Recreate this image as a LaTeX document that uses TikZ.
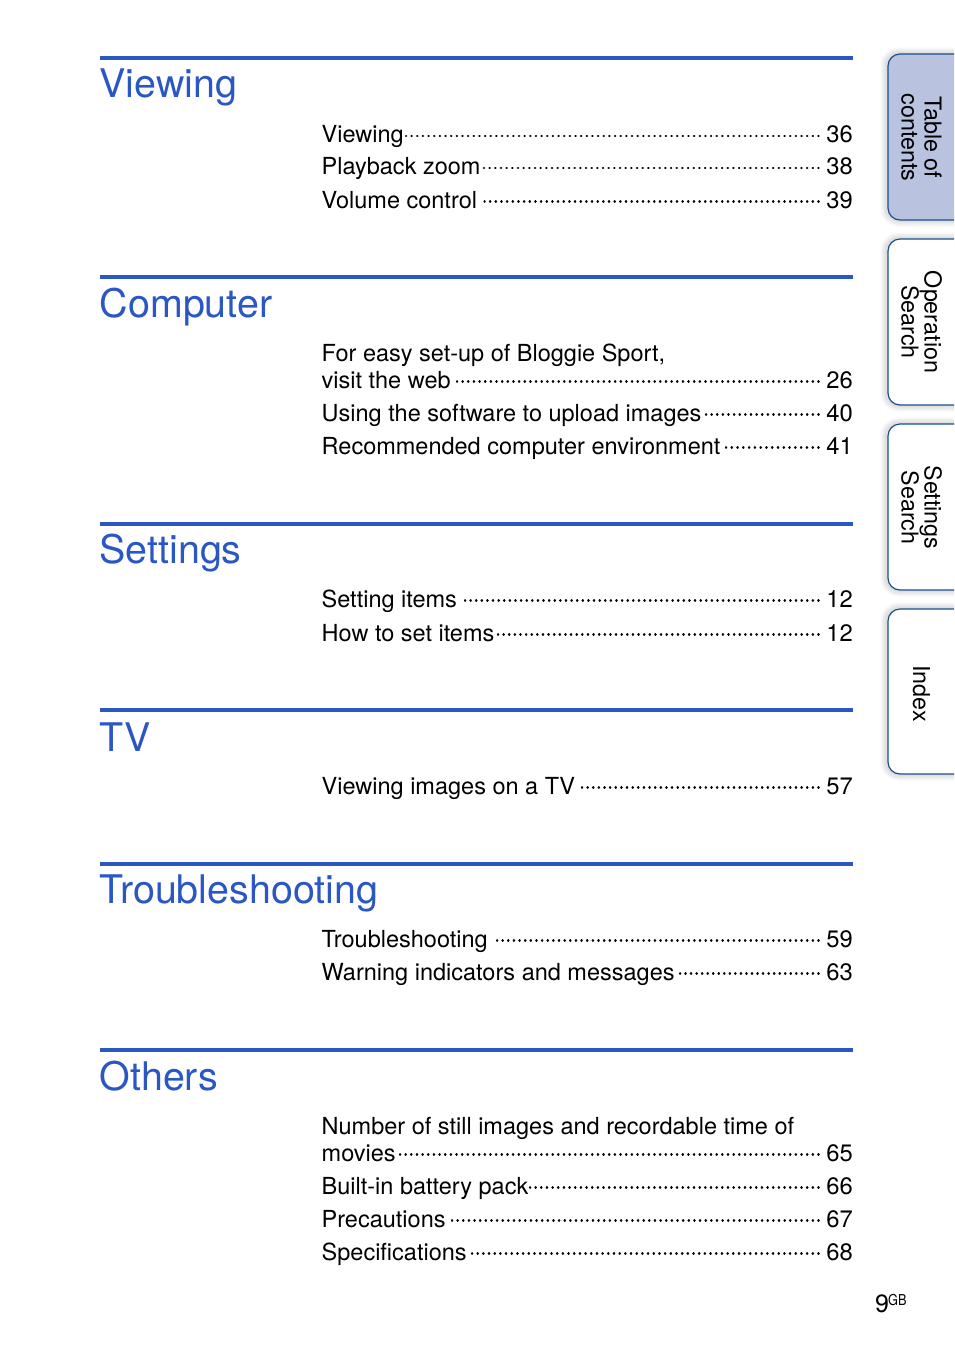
\documentclass[tikz,border=0pt]{standalone}
\usepackage{fontspec}
\setmainfont{TeX Gyre Heros}
\definecolor{headblue}{HTML}{2A57C4}
\definecolor{tabedge}{HTML}{1A4F8F}
\definecolor{tabfill}{HTML}{B9C2DE}
\tikzset{
  x=1pt,y=-1pt,
  heading/.style={anchor=base west,inner sep=0pt,text=headblue,font=\fontsize{39.4}{41}\selectfont},
  rulebar/.style={draw=headblue,line width=4pt},
  entrytext/.style={anchor=base west,inner sep=0pt,font=\fontsize{23.5}{28}\selectfont},
  pagenum/.style={anchor=base east,inner sep=0pt,font=\fontsize{23.8}{28}\selectfont},
  leader/.style={line width=2.4pt,line cap=round},
  tabtext/.style={rotate=-90,inner sep=0pt,align=center,font=\fontsize{23.3}{23}\selectfont},
  tabshape/.style={draw=tabedge,line width=1.2pt,rounded corners=12pt},
  tabshade/.style={draw=black,opacity=.03,rounded corners=12pt},
}
% name, baseline y, text, page, x of the first dot of the leader
\newcommand{\tocentry}[5]{%
  \node[entrytext] (#1l) at (321.5,#2) {#3};
  \node[pagenum] (#1p) at (853,#2) {#4};
  \coordinate (#1e) at (#5-1.0,#2-6.5);
  \pgfmathsetmacro{\dotgap}{(819.5-#5)/round((819.5-#5)/5.65)-0.3}
  \draw[leader,dash pattern=on 0.3pt off \dotgap pt] ([xshift=-7.5pt,yshift=6.5pt]#1p.base west) -- (#1e);
}
\newcommand{\tocsection}[4]{%
  \coordinate (#1a) at (100,#2);
  \coordinate (#1b) at (853,#2);
  \draw[rulebar] (#1a) -- (#1b);
  \node[heading] (#1h) at (99.5,#3) {#4};
}
\newcommand{\sidetab}[5]{%
  \foreach \w in {13,10,7,4}
    \draw[tabshade,line width=\w pt] (960,#2) -- (887,#2) -- (887,#3) -- (960,#3);
  \draw[tabshape,fill=#1] (960,#2) -- (888,#2) -- (888,#3) -- (960,#3);
  \node[tabtext] at (921.5,#5) {#4};
}
\begin{document}
\begin{tikzpicture}
\useasboundingbox (0,0) rectangle (954,1369);
\clip (0,0) rectangle (954,1369);
\fill[white] (0,0) rectangle (954,1369);

\tocsection{s1}{58}{97}{Viewing}
\tocentry{a1}{142.5}{Viewing}{36}{407}
\tocentry{a2}{174.5}{Playback zoom}{38}{485}
\tocentry{a3}{208}{Volume control}{39}{485.5}

\tocsection{s2}{277}{317}{Computer}
\node[entrytext] (b0) at (321.5,361) {For easy set-up of Bloggie Sport,};
\tocentry{b1}{388}{visit the web}{26}{458}
\tocentry{b2}{421}{Using the software to upload images}{40}{707}
\tocentry{b3}{454}{Recommended computer environment}{41}{727}

\tocsection{s3}{524}{563}{Settings}
\tocentry{c1}{607}{Setting items}{12}{466}
\tocentry{c2}{641}{How to set items}{12}{499}

\tocsection{s4}{710}{751}{TV}
\tocentry{d1}{794}{Viewing images on a TV}{57}{583}

\tocsection{s5}{864}{903}{Troubleshooting}
\tocentry{e1}{947}{Troubleshooting}{59}{498}
\tocentry{e2}{980}{Warning indicators and messages}{63}{681}

\tocsection{s6}{1050}{1090}{Others}
\node[entrytext] (f0) at (321.5,1134) {Number of still images and recordable time of};
\tocentry{f1}{1161}{movies}{65}{401}
\tocentry{f2}{1194}{Built-in battery pack}{66}{531}
\tocentry{f3}{1227}{Precautions}{67}{453}
\tocentry{f4}{1260}{Specifications}{68}{473}

\sidetab{tabfill}{54}{220}{Table of\\contents}{137.5}
\sidetab{white}{239}{405}{Operation\\Search}{322}
\sidetab{white}{424}{590}{Settings\\Search}{507.5}
\sidetab{white}{609}{774}{Index}{693.5}

\node[anchor=base west,inner sep=0pt,font=\fontsize{25}{25}\selectfont] (pg) at (875,1312) {9};
\node[anchor=base west,inner sep=0pt,font=\fontsize{15}{15}\selectfont,xscale=.85] (gb) at (888,1305) {GB};
\end{tikzpicture}
\end{document}
